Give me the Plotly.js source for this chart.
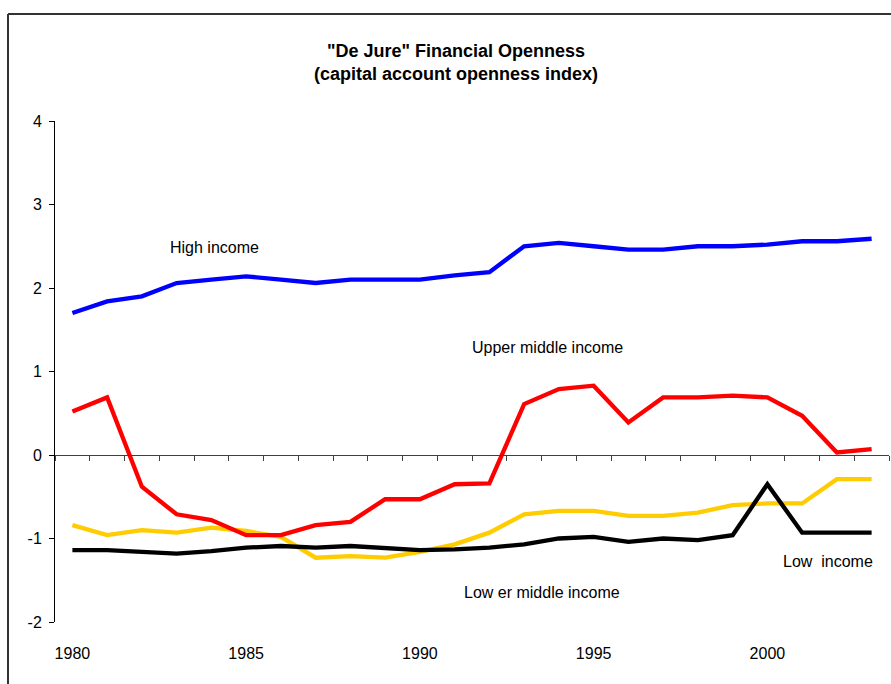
<!DOCTYPE html>
<html>
<head>
<meta charset="utf-8">
<script src="https://cdn.plot.ly/plotly-3.0.1.min.js"></script>
<style>
  html, body { margin: 0; padding: 0; background: #fff; }
  #chart { width: 891px; height: 684px; }
</style>
</head>
<body>
<div id="chart"></div>
<script>
const years = [1980,1981,1982,1983,1984,1985,1986,1987,1988,1989,1990,1991,
               1992,1993,1994,1995,1996,1997,1998,1999,2000,2001,2002,2003];

const highIncome = [1.70,1.84,1.90,2.06,2.10,2.14,2.10,2.06,2.10,2.10,2.10,2.15,
                    2.19,2.50,2.54,2.50,2.46,2.46,2.50,2.50,2.52,2.56,2.56,2.59];

const upperMiddle = [0.52,0.69,-0.38,-0.71,-0.78,-0.96,-0.96,-0.84,-0.80,-0.53,-0.53,-0.35,
                     -0.34,0.61,0.79,0.83,0.39,0.69,0.69,0.71,0.69,0.47,0.03,0.07];

const lowerMiddle = [-0.84,-0.96,-0.90,-0.93,-0.87,-0.91,-0.98,-1.23,-1.21,-1.23,-1.16,-1.07,
                     -0.93,-0.71,-0.67,-0.67,-0.73,-0.73,-0.69,-0.60,-0.58,-0.58,-0.29,-0.29];

const lowIncome = [-1.14,-1.14,-1.16,-1.18,-1.15,-1.11,-1.09,-1.11,-1.09,-1.11,-1.14,-1.13,
                   -1.11,-1.07,-1.00,-0.98,-1.04,-1.00,-1.02,-0.96,-0.35,-0.93,-0.93,-0.93];

const yearLabels = [1980, 1985, 1990, 1995, 2000];
const yTicks = [4, 3, 2, 1, 0, -1, -2];

const seriesNames = ["High income", "Lower middle income", "Low income", "Upper middle income"];
const seriesColors = ["#0000FF", "#FFCC00", "#000000", "#FF0000"];
const seriesValues = [highIncome, lowerMiddle, lowIncome, upperMiddle];

// category boundaries (ticks between years) on the zero axis
const boundaries = years.map(y => y - 0.5).concat([years[years.length - 1] + 0.5]);
const xRange = [years[0] - 0.5, years[years.length - 1] + 0.5];

const traces = seriesValues.map((vals, i) => ({
  type: "scatter",
  mode: "lines",
  x: years,
  y: vals,
  name: seriesNames[i],
  line: { color: seriesColors[i], width: 4.3 },
  hoverinfo: "x+y+name"
}));

// invisible trace that anchors the zero-crossing category axis
traces.push({
  type: "scatter", mode: "lines", x: xRange, y: [0, 0],
  xaxis: "x2", yaxis: "y",
  line: { color: "rgba(0,0,0,0)", width: 0 },
  hoverinfo: "skip", showlegend: false
});

const font = { family: "Liberation Sans, Arial, sans-serif", size: 16, color: "#000" };

const layout = {
  width: 891,
  height: 684,
  margin: { l: 55, r: 2, t: 121, b: 62 },
  paper_bgcolor: "#fff",
  plot_bgcolor: "#fff",
  showlegend: false,
  font: font,
  title: {
    text: "<b>\"De Jure\" Financial Openness<br>(capital account openness index)</b>",
    font: { family: "Liberation Sans, Arial, sans-serif", size: 18, color: "#000" },
    x: 456 / 891,
    xref: "container",
    xanchor: "center",
    y: 1 - 57 / 684,
    yref: "container",
    yanchor: "middle"
  },
  xaxis: {
    range: xRange,
    tickvals: yearLabels,
    ticktext: yearLabels.map(String),
    ticks: "",
    showline: false,
    showgrid: false,
    zeroline: false,
    ticklabelstandoff: 20,
    tickfont: font,
    fixedrange: true
  },
  xaxis2: {
    range: xRange,
    overlaying: "x",
    anchor: "free",
    position: 2 / 6,
    side: "bottom",
    showline: true,
    linecolor: "#404040",
    linewidth: 1,
    ticks: "outside",
    tickvals: boundaries,
    ticklen: 5,
    tickwidth: 1,
    tickcolor: "#404040",
    showticklabels: false,
    showgrid: false,
    zeroline: false,
    fixedrange: true
  },
  yaxis: {
    range: [-2, 4],
    tickvals: yTicks,
    ticktext: yTicks.map(String),
    ticks: "outside",
    ticklen: 5,
    tickwidth: 1,
    tickcolor: "#000",
    showline: true,
    linecolor: "#000",
    linewidth: 1,
    showgrid: false,
    zeroline: false,
    tickfont: font,
    ticklabelstandoff: 4,
    fixedrange: true
  },
  annotations: [
    { text: "High income", x: 1984.1, y: 2.49, xref: "x", yref: "y", showarrow: false, font: font },
    { text: "Upper middle income", x: 1993.66, y: 1.29, xref: "x", yref: "y", showarrow: false, font: font },
    { text: "Low er middle income", x: 1993.5, y: -1.65, xref: "x", yref: "y", showarrow: false, font: font },
    { text: "Low&nbsp; income", x: 2001.74, y: -1.28, xref: "x", yref: "y", showarrow: false, font: font }
  ],
  shapes: [
    { type: "line", xref: "paper", yref: "paper",
      x0: (8 - 55) / 834, x1: (8 - 55) / 834, y0: (622 - 14) / 501, y1: (622 - 690) / 501,
      line: { color: "#333", width: 2 } },
    { type: "line", xref: "paper", yref: "paper",
      x0: (8 - 55) / 834, x1: (895 - 55) / 834, y0: (622 - 14) / 501, y1: (622 - 14) / 501,
      line: { color: "#333", width: 2 } }
  ]
};

Plotly.newPlot("chart", traces, layout, { displayModeBar: false, staticPlot: true });
</script>
</body>
</html>
